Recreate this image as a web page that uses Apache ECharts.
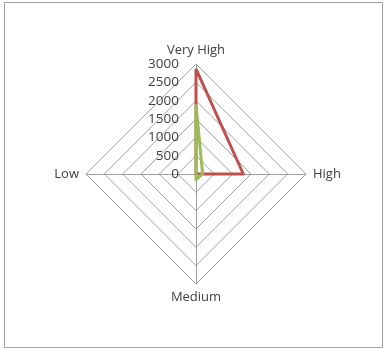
<!DOCTYPE html>
<html>
<head>
<meta charset="utf-8">
<script src="https://cdn.jsdelivr.net/npm/echarts@6/dist/echarts.min.js"></script>
<style>
  html, body { margin: 0; padding: 0; background: #fff; }
  #chart { width: 387px; height: 349px; }
</style>
</head>
<body>
<div id="chart"></div>
<script>
// Indicator names, listed counter-clockwise from the top
const categories = ['Very High', 'Low', 'Medium', 'High'];
const redValues = [2870, 0, 0, 1290];
const greenValues = [1900, 0, 150, 180];
const scaleMax = 3000;
const scaleStep = 500;

const textColor = '#404040';
const gridColor = '#a0a0a0';
const fontFamily = 'Open Sans, Liberation Sans, sans-serif';

const cx = 196, cy = 174, r = 110;

const chart = echarts.init(document.getElementById('chart'));
chart.setOption({
  animation: false,
  graphic: [{
    type: 'rect',
    shape: { x: 4.5, y: 2.5, width: 378, height: 345 },
    style: { fill: 'none', stroke: '#a0a0a0', lineWidth: 1 },
    silent: true
  }],
  // value scale shown along the upper spoke
  grid: { left: cx, top: cy - r, height: r, width: 10 },
  xAxis: { type: 'value', show: false },
  yAxis: {
    type: 'value',
    min: 0, max: scaleMax, interval: scaleStep,
    axisLine: { show: false },
    axisTick: { show: false },
    splitLine: { show: false },
    axisLabel: {
      color: textColor, fontSize: 13.5, fontFamily: fontFamily, margin: 17,
      formatter: v => String(v)
    }
  },
  radar: {
    center: [cx, cy],
    radius: r,
    startAngle: 90,
    shape: 'polygon',
    splitNumber: scaleMax / scaleStep,
    indicator: categories.map(n => ({ name: n, min: 0, max: scaleMax })),
    axisName: { color: textColor, fontSize: 13, fontFamily: fontFamily },
    nameGap: 7,
    axisLine: { lineStyle: { color: gridColor, width: 1 } },
    splitLine: { lineStyle: { color: gridColor, width: 1 } },
    splitArea: { show: false },
    axisLabel: { show: false },
    axisTick: { show: false }
  },
  series: [{
    type: 'radar',
    symbol: 'none',
    data: [
      { value: redValues, lineStyle: { color: '#c0504d', width: 3 } },
      { value: greenValues, lineStyle: { color: '#9bbb59', width: 3 } }
    ]
  }]
});
</script>
</body>
</html>
